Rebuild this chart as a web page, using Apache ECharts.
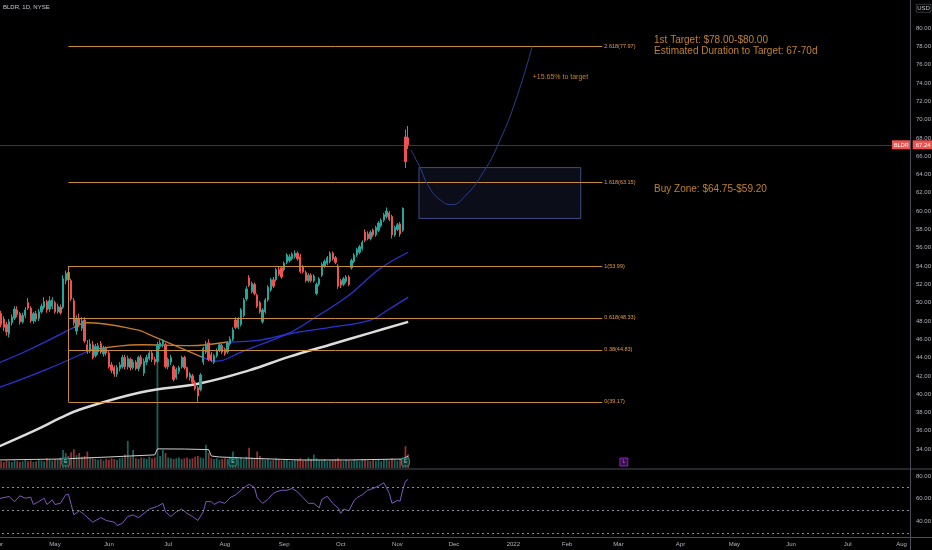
<!DOCTYPE html>
<html><head><meta charset="utf-8">
<script src="https://cdn.jsdelivr.net/npm/echarts@6/dist/echarts.min.js"></script>
<style>html,body{margin:0;padding:0;background:#000;}#c{width:932px;height:550px;}</style>
</head><body><div id="c"></div>
<script>
// ---------- categories (NYSE trading days) ----------
const firstDay = '2021-04-01';
const categoryCount = 339;
const holidays = ['2021-04-02','2021-05-31','2021-07-05','2021-09-06','2021-11-25','2021-12-24',
  '2022-01-17','2022-02-21','2022-04-15','2022-05-30','2022-06-20','2022-07-04'];
const monthNames = ['Jan','Feb','Mar','Apr','May','Jun','Jul','Aug','Sep','Oct','Nov','Dec'];
const priceTicks = [34,36,38,40,42,44,46,48,50,52,54,56,58,60,62,64,66,68,70,72,74,76,78,80];
const rsiTicks = [40,60,80];
const rsiBands = [70,50,30];

// ---------- daily candles [open, close, low, high], from 2021-04-01 ----------
const candles = [
[47.5,48.4,47.2,48.8],[48.8,47.6,47.3,49.1],[48.2,47.3,46.9,48.5],[47.6,46.8,46.4,47.9],[46.6,47.9,46.2,48.2],
[47.8,48.4,47.5,48.7],[48.3,49.3,48.1,49.6],[49.2,48.7,48.4,49.6],[48.8,47.9,47.6,49.0],[47.9,48.6,47.7,48.9],
[48.6,49.2,48.3,49.5],[50.0,49.4,49.2,50.5],[49.4,48.0,47.8,49.6],[48.0,48.8,47.7,49.0],[48.8,48.2,47.9,49.1],
[48.3,49.0,48.0,49.3],[49.0,49.6,48.8,49.9],[49.5,50.1,49.3,50.6],[50.1,49.2,48.9,50.3],[49.3,50.2,49.0,50.7],
[49.6,50.3,49.3,50.6],[50.0,49.0,48.8,50.2],[49.0,49.6,48.8,49.9],[49.5,48.9,48.7,49.8],[49.5,52.6,49.3,53.0],
[52.4,53.2,52.0,53.5],[53.3,52.5,52.2,53.99],[52.4,50.4,50.2,52.6],[50.2,47.8,47.5,50.5],[46.9,48.3,46.5,48.6],
[48.3,47.6,47.3,48.8],[47.2,48.0,46.9,48.4],[48.1,45.8,45.6,48.4],[45.4,44.7,44.4,45.9],[44.7,45.5,44.5,46.0],
[45.4,44.0,43.8,45.8],[44.2,45.2,44.0,45.5],[44.6,45.3,44.3,45.6],[45.5,44.6,44.4,45.8],[44.4,45.0,44.1,45.3],
[45.0,44.5,44.2,45.2],[44.5,43.0,42.8,44.7],[43.2,42.6,42.3,43.5],[42.9,42.2,41.9,43.1],[42.2,42.9,41.9,43.2],
[42.8,43.2,42.5,43.5],[43.0,44.0,42.8,44.3],[44.0,43.0,42.7,44.3],[43.0,43.9,42.7,44.2],[43.8,42.9,42.6,44.0],
[42.9,43.5,42.7,43.8],[43.5,42.8,42.6,43.7],[42.8,44.0,42.5,44.2],[44.0,43.3,43.0,44.3],[42.3,43.6,42.0,43.9],
[43.5,44.0,43.2,44.3],[43.9,44.5,43.7,44.7],[44.5,43.8,43.5,44.8],[43.8,43.5,43.2,44.1],[43.6,45.4,43.4,45.7],
[45.2,45.6,44.9,45.9],[45.5,45.8,45.1,46.0],[45.4,43.0,42.8,45.6],[43.0,43.8,42.7,44.0],[43.5,44.0,43.2,44.3],
[43.0,41.6,41.4,43.2],[41.8,42.7,41.6,42.9],[42.5,42.9,42.2,43.1],[43.0,44.0,42.8,44.2],[44.0,42.9,42.7,44.2],
[42.9,41.9,41.7,43.0],[41.8,42.2,41.5,42.4],[42.0,41.3,41.1,42.2],[41.3,40.6,40.4,41.5],[40.7,39.8,39.17,40.9],
[40.5,42.1,40.3,42.3],[43.5,45.0,43.2,45.2],[44.6,45.5,44.4,45.8],[45.6,43.8,43.6,46.0],[44.3,43.7,43.5,44.6],
[43.5,44.2,43.3,44.4],[44.2,44.7,44.0,45.0],[44.8,45.4,44.6,45.6],[45.3,44.6,44.4,45.5],[44.9,44.4,44.2,45.1],
[44.6,45.6,44.4,45.8],[45.5,46.0,45.3,46.3],[46.0,47.0,45.8,47.3],[48.1,47.3,47.1,48.4],[47.3,48.2,47.1,48.4],
[47.6,49.2,47.4,49.4],[48.6,50.3,48.4,50.5],[50.4,51.5,50.2,51.8],[52.7,51.9,51.7,53.0],[51.2,52.1,51.0,52.3],
[52.0,51.0,50.8,52.2],[50.8,49.6,49.4,51.0],[50.0,49.0,48.8,50.2],[47.9,49.2,47.7,49.4],[49.0,50.3,48.8,50.5],
[50.3,51.7,50.1,51.9],[51.4,52.5,51.2,52.7],[52.5,51.8,51.6,52.8],[52.5,53.6,52.3,53.8],[53.6,53.1,52.9,53.9],
[53.8,52.8,52.6,54.0],[53.6,54.3,53.4,54.5],[54.4,55.2,54.2,55.4],[54.6,55.0,54.4,55.3],[54.8,55.3,54.6,55.5],
[55.0,55.4,54.8,55.7],[55.4,54.8,54.6,55.6],[55.0,53.4,53.2,55.3],[53.9,53.4,53.2,54.1],[53.3,52.4,52.2,53.5],
[52.4,53.0,52.2,53.2],[53.0,52.4,52.2,53.2],[52.4,52.9,52.2,53.1],[51.0,52.0,50.8,52.2],[52.0,52.6,51.8,52.8],
[53.0,54.2,52.8,54.4],[54.0,54.5,53.8,54.7],[54.3,54.9,54.1,55.1],[54.5,55.4,54.3,55.6],[55.4,54.8,54.6,55.6],
[54.9,54.4,54.2,55.1],[54.0,51.8,51.5,54.2],[52.4,51.9,51.6,52.6],[52.0,52.6,51.8,52.8],[52.3,52.8,52.1,53.0],
[52.8,52.0,51.8,53.0],[53.8,54.6,53.6,54.8],[54.5,55.2,54.3,55.4],[55.2,55.8,55.0,56.0],[55.5,56.1,55.3,56.3],
[55.9,56.6,55.7,56.8],[57.7,56.8,56.6,58.0],[57.5,57.0,56.8,57.8],[57.0,57.7,56.8,57.9],[57.9,57.4,57.2,58.1],
[57.4,58.2,57.2,58.4],[57.9,58.7,57.7,58.9],[58.4,59.0,58.2,59.2],[59.0,59.6,58.8,59.8],[59.4,60.0,59.2,60.4],
[59.8,59.1,58.9,60.0],[59.4,57.4,57.0,59.6],[57.4,58.2,57.2,58.4],[58.0,58.5,57.8,58.7],[58.6,57.5,57.2,58.8],
[57.9,60.3,57.7,60.4],[68.1,65.4,64.7,68.9],[68.0,67.24,66.8,69.3]
];

// ---------- volume (millions), same days ----------
const volumes = [
1.5,0.9,0.8,1.0,0.9,0.8,1.0,0.9,0.8,0.9,
1.1,0.9,1.0,0.8,0.9,1.2,1.0,0.9,1.3,1.1,
1.0,1.2,1.1,1.4,2.4,2.0,1.6,2.1,2.5,1.7,
2.0,1.5,1.6,2.2,1.4,1.3,1.2,1.1,1.2,1.0,
1.2,1.1,1.3,1.2,1.1,1.3,1.4,1.8,3.6,1.5,
2.4,1.3,1.2,1.4,1.3,1.2,1.5,1.3,1.4,16.5,
1.6,2.4,2.0,1.4,1.3,1.2,1.3,1.4,1.2,1.3,
1.4,1.2,1.3,1.5,1.6,1.4,1.3,3.1,2.0,1.3,
1.2,1.3,1.1,1.2,1.3,1.2,1.4,2.2,1.5,1.3,
1.4,1.2,1.5,2.7,1.4,1.3,2.2,1.6,1.2,1.1,
1.2,1.0,1.1,1.3,1.2,1.0,1.1,1.2,0.9,1.0,
1.1,1.2,1.3,1.0,1.1,1.4,1.2,1.8,1.3,1.1,
1.0,1.2,0.9,1.0,1.1,1.2,1.3,1.0,0.9,1.1,
1.0,0.9,1.1,1.0,0.9,1.2,1.1,1.0,0.9,1.1,
1.0,1.2,0.9,1.1,1.2,1.0,1.3,1.1,1.0,1.2,
1.4,2.9,1.8
];

// ---------- moving averages [date, value] ----------
const maMidBlueA = [['2021-04-01',43.4],['2021-04-19',44.8],['2021-05-12',47.3]];
const maMidOrange = [['2021-05-12',47.3],['2021-05-19',47.8],['2021-06-16',47.0],['2021-06-22',46.5],['2021-07-21',44.0]];
const maMidBlueB = [['2021-07-21',44.0],['2021-07-28',43.6],['2021-08-10',44.6],['2021-08-19',45.4],['2021-09-03',46.7],
  ['2021-09-16',48.1],['2021-10-06',50.8],['2021-10-21',53.6],['2021-11-05',55.5]];
const maSlowBlueA = [['2021-04-01',40.7],['2021-04-27',42.6],['2021-05-20',44.8]];
const maSlowOrange = [['2021-05-20',44.8],['2021-06-17',45.4],['2021-07-14',45.3],['2021-08-03',45.7]];
const maSlowBlueB = [['2021-08-03',45.7],['2021-08-19',45.9],['2021-09-03',46.6],['2021-09-27',47.3],['2021-10-18',48.1],
  ['2021-10-27',49.3],['2021-11-05',50.6]];
const ma200 = [['2021-04-01',34.26],['2021-04-22',36.1],['2021-05-05',37.4],['2021-05-14',38.3],['2021-06-17',40.2],
  ['2021-07-20',41.2],['2021-08-13',42.6],['2021-09-03',44.1],['2021-09-27',45.4],['2021-10-18',46.7],['2021-11-05',47.9]];
const volMa = [['2021-04-01',1.07],['2021-05-05',1.2],['2021-06-01',1.47],['2021-06-24',1.75],['2021-06-25',2.55],
  ['2021-07-12',2.53],['2021-07-23',2.45],['2021-07-26',1.6],['2021-07-29',1.47],['2021-08-11',1.33],
  ['2021-09-10',1.07],['2021-10-06',1.07],['2021-11-03',1.2],['2021-11-05',1.6]];

// ---------- RSI ----------
const rsi = [
['2021-04-01',60],['2021-04-05',60.5],['2021-04-08',62],['2021-04-12',57.5],['2021-04-14',62.6],['2021-04-16',60.5],
['2021-04-20',61.5],['2021-04-21',55],['2021-04-23',57.5],['2021-04-27',60.5],['2021-04-28',55],['2021-04-30',59],
['2021-05-03',55],['2021-05-05',56],['2021-05-07',63.5],['2021-05-10',64],['2021-05-11',55],['2021-05-12',46],
['2021-05-14',49.5],['2021-05-18',45.8],['2021-05-21',39.5],['2021-05-26',43.5],['2021-05-28',41],['2021-06-03',39.5],
['2021-06-04',36.5],['2021-06-08',38.5],['2021-06-10',44.5],['2021-06-14',45.8],['2021-06-16',43.5],['2021-06-18',47.2],
['2021-06-22',51],['2021-06-25',53.4],['2021-06-29',56],['2021-06-30',48.5],['2021-07-02',44.5],['2021-07-07',48.5],
['2021-07-09',51],['2021-07-13',47.2],['2021-07-15',44.5],['2021-07-19',41],['2021-07-21',48.5],['2021-07-22',57.5],
['2021-07-26',57.5],['2021-07-27',55],['2021-07-29',57.5],['2021-08-02',56],['2021-08-04',61],['2021-08-06',63.5],
['2021-08-10',67.5],['2021-08-12',71.3],['2021-08-13',72.6],['2021-08-17',70],['2021-08-18',61],['2021-08-20',56],
['2021-08-24',59.5],['2021-08-26',64.8],['2021-08-27',66],['2021-08-31',67.5],['2021-09-02',67.5],['2021-09-07',69],
['2021-09-09',66],['2021-09-13',61],['2021-09-15',56],['2021-09-17',56],['2021-09-21',52],['2021-09-22',59.5],
['2021-09-24',62.2],['2021-09-28',56],['2021-09-30',52],['2021-10-01',47.2],['2021-10-04',51],['2021-10-06',49.5],
['2021-10-08',58.6],['2021-10-11',61],['2021-10-13',63.5],['2021-10-15',67.5],['2021-10-19',69],['2021-10-21',71.3],
['2021-10-25',74],['2021-10-27',64.8],['2021-10-28',56],['2021-11-01',58.6],['2021-11-02',58],['2021-11-03',68],
['2021-11-04',75.5],['2021-11-05',77]
];

// ---------- drawings ----------
const fibRatios = ['2.618','1.618','1','0.618','0.38','0'];
const fibPrices = [77.97,63.15,53.99,48.33,44.83,39.17];
const fibStart = '2021-05-10', fibEnd = '2022-02-18';
const lastPrice = 67.24;
const buyZone = {top:64.75, bottom:59.20, start:'2021-11-11', end:'2022-02-08'};
const projection = [['2021-11-08',66.7],['2021-11-11',65.0],['2021-11-17',62.5],['2021-11-23',61.2],['2021-11-30',60.7],
  ['2021-12-07',61.6],['2021-12-16',64.3],['2021-12-27',67.7],['2022-01-04',72.2],['2022-01-12',77.97]];
const earnings = ['2021-05-07','2021-08-05','2021-11-04'];
const futureEvent = '2022-03-03';
const notes = [
  ['2022-03-18',78.69,'1st Target: $78.00-$80.00',10],
  ['2022-03-18',77.49,'Estimated Duration to Target: 67-70d',10],
  ['2022-03-18',62.41,'Buy Zone: $64.75-$59.20',10],
  ['2022-01-12',74.65,'+15.65% to target',7]
];

// ---------- build ----------
const cats = [];
{
  const hs = new Set(holidays);
  const d = new Date(firstDay + 'T00:00:00Z');
  while (cats.length < categoryCount) {
    const s = d.toISOString().slice(0,10), w = d.getUTCDay();
    if (w !== 0 && w !== 6 && !hs.has(s)) cats.push(s);
    d.setUTCDate(d.getUTCDate() + 1);
  }
}
const ix = s => cats.indexOf(s);
const pts = arr => arr.map(([d, v]) => [ix(d), v]);
const UP = '#26a69a', DN = '#ef5350', BLUE = '#2a33d4', ORANGE = '#c97a26', FIB = '#c98b3e', NOTE = '#f0a032';
const GREY = '#b2b5be', FONT = 'Liberation Sans, Arial, sans-serif';

const isMonthStart = (i) => i === 0 || cats[i].slice(0,7) !== cats[i-1].slice(0,7);
const monthLabel = (v) => { const m = +v.slice(5,7) - 1; return m === 0 ? v.slice(0,4) : monthNames[m]; };

const fibMark = [];
fibPrices.forEach((p, k) => {
  const lbl = {show:true, position:'end', distance:2, formatter: fibRatios[k] + '(' + p.toFixed(2) + ')', color: '#e39a45', fontSize: 5.5, fontFamily: FONT};
  const ls = {color: FIB, width: 1, type: 'solid'};
  fibMark.push([{coord:[ix(fibStart), p], lineStyle: ls, label: lbl}, {coord:[ix(fibEnd), p], lineStyle: ls, label: lbl}]);
});
fibMark.push([{coord:[ix(fibStart), fibPrices[5]], lineStyle:{color:FIB,width:1,type:'solid'}, label:{show:false}},
  {coord:[ix(fibStart), fibPrices[2]], lineStyle:{color:FIB,width:1,type:'solid'}, label:{show:false}}]);
fibMark.push({yAxis: lastPrice, lineStyle:{color: 'rgba(239,83,80,0.45)', width: 1, type: 'solid', opacity: 1},
  label:{show:true, position:'end', distance: 0, offset:[-19, 0], formatter:'{a|BLDR}{s|}{b|' + lastPrice.toFixed(2) + '}',
    rich:{a:{backgroundColor: DN, color:'#fff', fontSize:5.5, padding:[2,2,1,2], fontFamily: FONT},
          s:{width:2},
          b:{backgroundColor: DN, color:'#fff', fontSize:6, padding:[2,3,1,3], fontFamily: FONT}}}});

const maLine = (data, color, width, z) => ({type:'line', data: pts(data), smooth: 0.4, symbol:'none', xAxisIndex:0, yAxisIndex:0,
  lineStyle:{color, width}, z: z || 3, silent: true, animation: false});

const option = {
  backgroundColor: '#000',
  animation: false,
  textStyle: {fontFamily: FONT},
  grid: [
    {left: -3, right: 21, top: 9.7, height: 457.7, outerBoundsMode: 'none'},
    {left: -3, right: 21, top: 340.5, height: 127.5, outerBoundsMode: 'none'},
    {left: -3, right: 21, top: 469, height: 68, outerBoundsMode: 'none'}
  ],
  xAxis: [
    {type:'category', data: cats, gridIndex:0, show:false, boundaryGap:true},
    {type:'category', data: cats, gridIndex:1, show:false, boundaryGap:true},
    {type:'category', data: cats, gridIndex:2, boundaryGap:true,
      axisLine:{show:false}, axisTick:{show:false}, splitLine:{show:false},
      axisLabel:{interval: (i) => isMonthStart(i), formatter: monthLabel, color: GREY, fontSize: 6, margin: 4}}
  ],
  yAxis: [
    {type:'value', gridIndex:0, position:'right', min:32, max:82, interval:2, splitLine:{show:false},
      axisLine:{show:false}, axisTick:{show:false},
      axisLabel:{color: GREY, fontSize: 6, margin: 5, formatter: v => priceTicks.includes(v) ? v.toFixed(2) : ''}},
    {type:'value', gridIndex:1, min:0, max:17, show:false},
    {type:'value', gridIndex:2, position:'right', min:26.5, max:86.1, splitLine:{show:false},
      axisLine:{show:false}, axisTick:{show:false},
      axisLabel:{color: GREY, fontSize: 6, margin: 5, customValues: rsiTicks, formatter: v => v.toFixed(2)}}
  ],
  series: [
    {type:'bar', name:'Volume', xAxisIndex:1, yAxisIndex:1, barWidth: 1.8, silent:true, z:1,
      data: volumes.map((v, i) => ({value: v, itemStyle:{color: candles[i][1] >= candles[i][0] ? 'rgba(38,166,154,0.6)' : 'rgba(239,83,80,0.6)'}}))},
    {type:'line', name:'Vol MA', xAxisIndex:1, yAxisIndex:1, data: pts(volMa), symbol:'none', silent:true, z:2,
      lineStyle:{color:'#d0d0d0', width:1}},
    {type:'scatter', name:'Events', xAxisIndex:1, yAxisIndex:1, silent:true, z:6,
      data: earnings.map(d => ({value:[ix(d), 0.8], symbol:'roundRect', symbolSize:[8,8],
          itemStyle:{color:'#0c3a35', borderColor:'#26a69a', borderWidth:1},
          label:{show:true, position:'inside', formatter:'E', color:'#a7e3dc', fontSize:5}}))
        .concat([{value:[ix(futureEvent), 0.8], symbol:'rect', symbolSize:[8,8],
          itemStyle:{color:'#4a1266', borderColor:'#9b30d0', borderWidth:1},
          label:{show:true, position:'inside', formatter:'L', color:'#d08ae8', fontSize:5}}])},
    maLine(ma200, '#dcdcdc', 2.5, 2),
    maLine(maSlowBlueA, BLUE, 1.3), maLine(maSlowOrange, ORANGE, 1.3), maLine(maSlowBlueB, BLUE, 1.3),
    maLine(maMidBlueA, BLUE, 1.3), maLine(maMidOrange, ORANGE, 1.3), maLine(maMidBlueB, BLUE, 1.3),
    {type:'candlestick', name:'BLDR', xAxisIndex:0, yAxisIndex:0, data: candles, barWidth: 1.8, z:4, silent:true,
      itemStyle:{color: UP, color0: DN, borderColor: UP, borderColor0: DN, borderWidth: 1},
      markLine:{symbol:'none', silent:true, animation:false, data: fibMark},
      markArea:{silent:true, data:[[{coord:[ix(buyZone.start), buyZone.top]}, {coord:[ix(buyZone.end), buyZone.bottom]}]],
        itemStyle:{color:'rgba(50,60,110,0.22)', borderColor:'#3c4c84', borderWidth:1}}},
    {type:'line', name:'Projection', xAxisIndex:0, yAxisIndex:0, data: pts(projection), smooth: 0.5, symbol:'none',
      silent:true, z:5, lineStyle:{color:'#2e3d8f', width:1, type:'solid'}},
    {type:'scatter', name:'Notes', xAxisIndex:0, yAxisIndex:0, silent:true, z:7, symbolSize:1,
      itemStyle:{color:'rgba(0,0,0,0)'},
      data: notes.map(([d, v, t, fs]) => ({value:[ix(d), v],
        label:{show:true, position:'right', distance:0, formatter: t, color: NOTE, fontSize: fs, fontFamily: FONT}}))},
    {type:'line', name:'RSI', xAxisIndex:2, yAxisIndex:2, data: pts(rsi), symbol:'none', silent:true,
      lineStyle:{color:'#7e57c2', width:1},
      markLine:{symbol:'none', silent:true, label:{show:false}, data: rsiBands.map(v => ({yAxis: v})),
        lineStyle:{color:'#8a8d96', width:1, type:[2,3]}}}
  ],
  graphic: [
    {type:'line', shape:{x1:910.5, y1:0, x2:910.5, y2:550}, style:{stroke:'#4a4d57', lineWidth:1}, silent:true, z:100},
    {type:'line', shape:{x1:0, y1:469, x2:932, y2:469}, style:{stroke:'#4a4d57', lineWidth:1}, silent:true, z:100},
    {type:'line', shape:{x1:0, y1:537.5, x2:932, y2:537.5}, style:{stroke:'#4a4d57', lineWidth:1}, silent:true, z:100},
    {type:'text', left:3, top:4, style:{text:'BLDR, 1D, NYSE', fill:'#c8cad0', fontSize:6, fontFamily: FONT}, silent:true},
    {type:'text', left:916, top:4, style:{text:'USD', fill:'#c8cad0', fontSize:6, fontFamily: FONT,
      borderColor:'#6a6d77', borderWidth:0.5, padding:[1,1]}, silent:true}
  ]
};
const chart = echarts.init(document.getElementById('c'), null, {renderer:'canvas'});
chart.setOption(option);
</script></body></html>
